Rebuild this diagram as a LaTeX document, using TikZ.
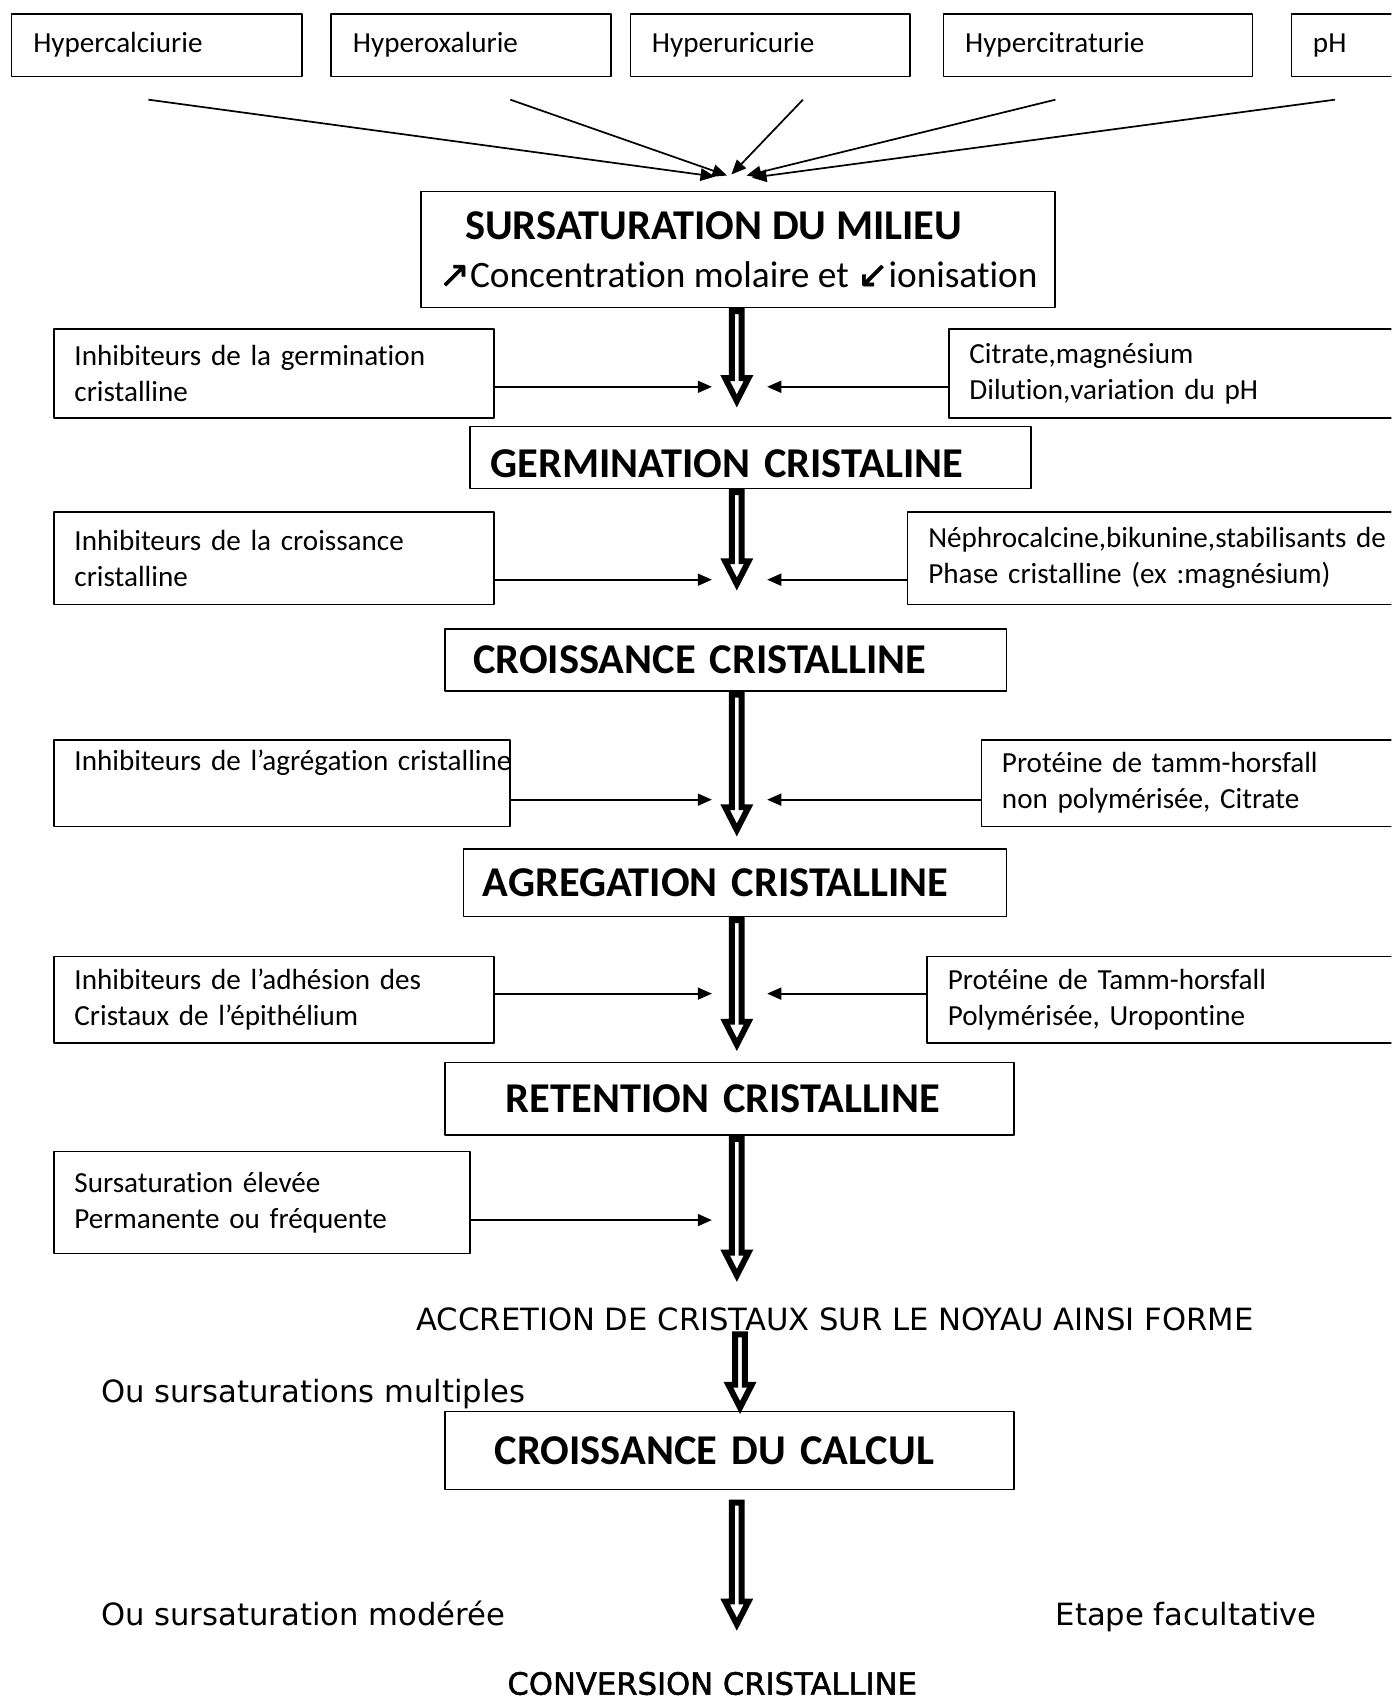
\documentclass[tikz,border=0pt]{standalone}
\usepackage{fontspec}
\setmainfont{Carlito}[Ligatures=NoCommon]
\newfontfamily\dvsans{DejaVu Sans}
\newfontfamily\dvbold{DejaVu Sans}[FakeBold=1.6]
\usetikzlibrary{arrows.meta,calc}

\newcommand{\boxfont}{\fontsize{15.3}{18.8}\selectfont}
\newcommand{\stagefont}{\fontsize{22.3}{26}\selectfont\bfseries}
\newcommand{\notefont}{\dvsans\fontsize{16.1}{19}\selectfont}
% hollow thick arrow going down from #1 to its tip #2
\newcommand{\hollowarrow}[2]{%
  \draw[line width=3.1pt, line join=miter, miter limit=20]
    ($(#1)+(-0.09,-0.055)$) -- ($(#2)+(-0.09,0.54)$) -- ($(#2)+(-0.215,0.54)$)
    -- ($(#2)+(0,0.12)$) -- ($(#2)+(0.215,0.54)$) -- ($(#2)+(0.09,0.54)$)
    -- ($(#1)+(0.09,-0.055)$) -- cycle;}

\begin{document}
\begin{tikzpicture}[line join=round,
  cause/.style={draw, line width=0.8pt, anchor=north west, font=\boxfont, align=left, inner xsep=0.4cm, minimum height=1.16cm},
  factor/.style={draw, line width=0.8pt, anchor=north west, font=\boxfont, align=left, inner xsep=0.38cm},
  stage/.style={draw, line width=0.8pt, anchor=north west, font=\stagefont, align=left},
  note/.style={anchor=base west, inner sep=0pt, font=\notefont},
  feed/.style={line width=1pt, -{Triangle[length=0.26cm, width=0.22cm]}},
  inflow/.style={line width=0.9pt, -{Triangle[length=0.27cm, width=0.23cm]}}]
  \useasboundingbox (0,0) rectangle (25.68,-31.36);
  \clip (0,0) rectangle (25.68,-31.36);

  % Risk factors along the top
  \node[cause, text width=4.56cm] (hcalc) at (0.20,-0.24) {Hypercalciurie};
  \node[cause, text width=4.36cm] (hoxal) at (6.10,-0.24) {Hyperoxalurie};
  \node[cause, text width=4.36cm] (huric) at (11.62,-0.24) {Hyperuricurie};
  \node[cause, text width=4.90cm] (hcitr) at (17.40,-0.24) {Hypercitraturie};
  \node[cause, text width=2.20cm] (ph) at (23.82,-0.24) {pH};

  % converging arrows
  \coordinate (s1) at (2.74,-1.84);  \coordinate (t1) at (13.20,-3.26);
  \coordinate (s2) at (9.42,-1.84);  \coordinate (t2) at (13.42,-3.24);
  \coordinate (s3) at (14.82,-1.84); \coordinate (t3) at (13.50,-3.22);
  \coordinate (s4) at (19.48,-1.84); \coordinate (t4) at (13.78,-3.24);
  \coordinate (s5) at (24.64,-1.84); \coordinate (t5) at (13.88,-3.28);
  \foreach \s/\t in {s1/t1, s2/t2, s3/t3, s4/t4, s5/t5}
    \draw[inflow] (\s) -- (\t);

  % Supersaturation
  \node[draw, line width=0.8pt, anchor=north west, minimum width=11.70cm, minimum height=2.14cm,
        align=center, font=\fontsize{19.6}{25}\selectfont] (sursat) at (7.76,-3.52)
    {{\stagefont SURSATURATION DU MILIEU\hspace*{0.9cm}}\\
     {\dvbold ↗}Concentration molaire et {\dvbold ↙}ionisation};
  \coordinate (k1) at (13.6,-7.52);
  \hollowarrow{sursat.south -| k1}{k1}

  % germination
  \node[factor, text width=7.36cm, minimum height=1.64cm] (inhgerm) at (0.98,-6.06)
    {Inhibiteurs de la germination\\cristalline};
  \node[factor, text width=9.24cm, minimum height=1.64cm] (agtgerm) at (17.50,-6.06)
    {Citrate,magnésium\\Dilution,variation du pH};
  \coordinate (gl) at (13.14,-7.14); \coordinate (gr) at (14.16,-7.14);
  \draw[feed] (inhgerm.east |- gl) -- (gl);
  \draw[feed] (agtgerm.west |- gr) -- (gr);
  \node[stage, text width=9.60cm, inner xsep=0.38cm, minimum height=1.14cm, text height=0.75cm] (germ) at (8.66,-7.86)
    {GERMINATION CRISTALINE};
  \coordinate (k2) at (13.6,-10.9);
  \hollowarrow{germ.south -| k2}{k2}

  % growth
  \node[factor, text width=7.36cm, minimum height=1.70cm] (inhcroi) at (0.98,-9.44)
    {Inhibiteurs de la croissance\\cristalline};
  \node[factor, text width=9.24cm, minimum height=1.70cm] (agtcroi) at (16.74,-9.44)
    {Néphrocalcine,bikunine,stabilisants de\\Phase cristalline (ex :magnésium)};
  \coordinate (cl) at (13.14,-10.70); \coordinate (cr) at (14.16,-10.70);
  \draw[feed] (inhcroi.east |- cl) -- (cl);
  \draw[feed] (agtcroi.west |- cr) -- (cr);
  \node[stage, text width=9.32cm, inner xsep=0.52cm, minimum height=1.14cm] (croi) at (8.20,-11.60)
    {CROISSANCE CRISTALLINE};
  \coordinate (k3) at (13.6,-15.44);
  \hollowarrow{croi.south -| k3}{k3}

  % aggregation
  \node[factor, text width=7.66cm, minimum height=1.60cm] (inhagr) at (0.98,-13.64)
    {\mbox{Inhibiteurs de l’agrégation cristalline}\\\strut};
  \node[factor, text width=9.24cm, minimum height=1.60cm] (agtagr) at (18.10,-13.64)
    {Protéine de tamm-horsfall\\non polymérisée, Citrate};
  \coordinate (al) at (13.14,-14.76); \coordinate (ar) at (14.16,-14.76);
  \draw[feed] (inhagr.east |- al) -- (al);
  \draw[feed] (agtagr.west |- ar) -- (ar);
  \node[stage, text width=9.30cm, inner xsep=0.36cm, minimum height=1.24cm] (agr) at (8.54,-15.66)
    {AGREGATION CRISTALLINE};
  \coordinate (k4) at (13.6,-19.4);
  \hollowarrow{agr.south -| k4}{k4}

  % adhesion / retention
  \node[factor, text width=7.36cm, minimum height=1.60cm] (inhadh) at (0.98,-17.64)
    {Inhibiteurs de l’adhésion des\\Cristaux de l’épithélium};
  \node[factor, text width=9.24cm, minimum height=1.60cm] (agtadh) at (17.10,-17.64)
    {Protéine de Tamm-horsfall\\Polymérisée, Uropontine};
  \coordinate (dl) at (13.14,-18.34); \coordinate (dr) at (14.16,-18.34);
  \draw[feed] (inhadh.east |- dl) -- (dl);
  \draw[feed] (agtadh.west |- dr) -- (dr);
  \node[stage, text width=8.26cm, inner xsep=1.12cm, minimum height=1.34cm] (reten) at (8.20,-19.60)
    {RETENTION CRISTALLINE};
  \coordinate (k5) at (13.6,-23.66);
  \hollowarrow{reten.south -| k5}{k5}

  \node[factor, text width=6.92cm, minimum height=1.88cm] (sursel) at (0.98,-21.24)
    {Sursaturation élevée\\Permanente ou fréquente};
  \coordinate (el) at (13.14,-22.52);
  \draw[feed] (sursel.east |- el) -- (el);

  % accretion and stone growth
  \node[note] (accr) at (7.68,-24.56) {ACCRETION DE CRISTAUX SUR LE NOYAU AINSI FORME};
  \coordinate (k6) at (13.66,-26.1);
  \hollowarrow{accr.south -| k6}{k6}
  \node[note] (multi) at (1.86,-25.88) {Ou sursaturations multiples};
  \node[stage, text width=8.66cm, inner xsep=0.92cm, minimum height=1.44cm] (calcul) at (8.20,-26.04)
    {CROISSANCE DU CALCUL};
  \coordinate (j7) at (13.6,-27.68); \coordinate (k7) at (13.6,-30.1);
  \hollowarrow{j7}{k7}
  \node[note] (moder) at (1.86,-30.0) {Ou sursaturation modérée};
  \node[note] (etape) at (19.48,-30.0) {Etape facultative};
  \node[note, font=\dvbold\fontsize{16.1}{19}\selectfont] (conv) at (9.36,-31.28) {CONVERSION CRISTALLINE};
\end{tikzpicture}
\end{document}
